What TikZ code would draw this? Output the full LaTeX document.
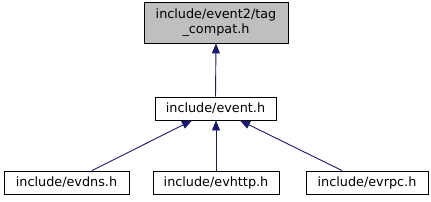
\documentclass[tikz,border=0pt]{standalone}
\usepackage{fontspec}
\setmainfont{DejaVu Sans}
\usetikzlibrary{arrows.meta}
\definecolor{edgeblue}{HTML}{191970}
\definecolor{topgray}{HTML}{BFBFBF}
\tikzset{
  filebox/.style={draw=black, line width=0.9pt, inner sep=0pt, minimum height=23pt, font=\fontsize{12.8}{15.5}\selectfont, align=center},
  edge/.style={draw=edgeblue, line width=0.9pt, -{Triangle[length=10pt,width=8pt]}}
}
\begin{document}
\begin{tikzpicture}[x=1pt,y=-1pt]
\useasboundingbox (0,0) rectangle (431,201);
\node[filebox, fill=topgray, minimum width=144pt, minimum height=41pt] (tag) at (216,22.5) {include/event2/tag\\\_compat.h};
\node[filebox, minimum width=121pt] (event) at (215.5,108.5) {include/event.h};
\node[filebox, minimum width=125pt] (evdns) at (66.5,182.5) {include/evdns.h};
\node[filebox, minimum width=126pt] (evhttp) at (216,182.5) {include/evhttp.h};
\node[filebox, minimum width=122pt] (evrpc) at (367,182.5) {include/evrpc.h};
\draw[edge] (event.north) -- (tag.south);
\draw[edge] ([xshift=25.5pt]evdns.north) -- ([xshift=-23.5pt]event.south);
\draw[edge] (evhttp.north) -- (evhttp.north |- event.south);
\draw[edge] ([xshift=-25pt]evrpc.north) -- ([xshift=24.5pt]event.south);
\end{tikzpicture}
\end{document}
